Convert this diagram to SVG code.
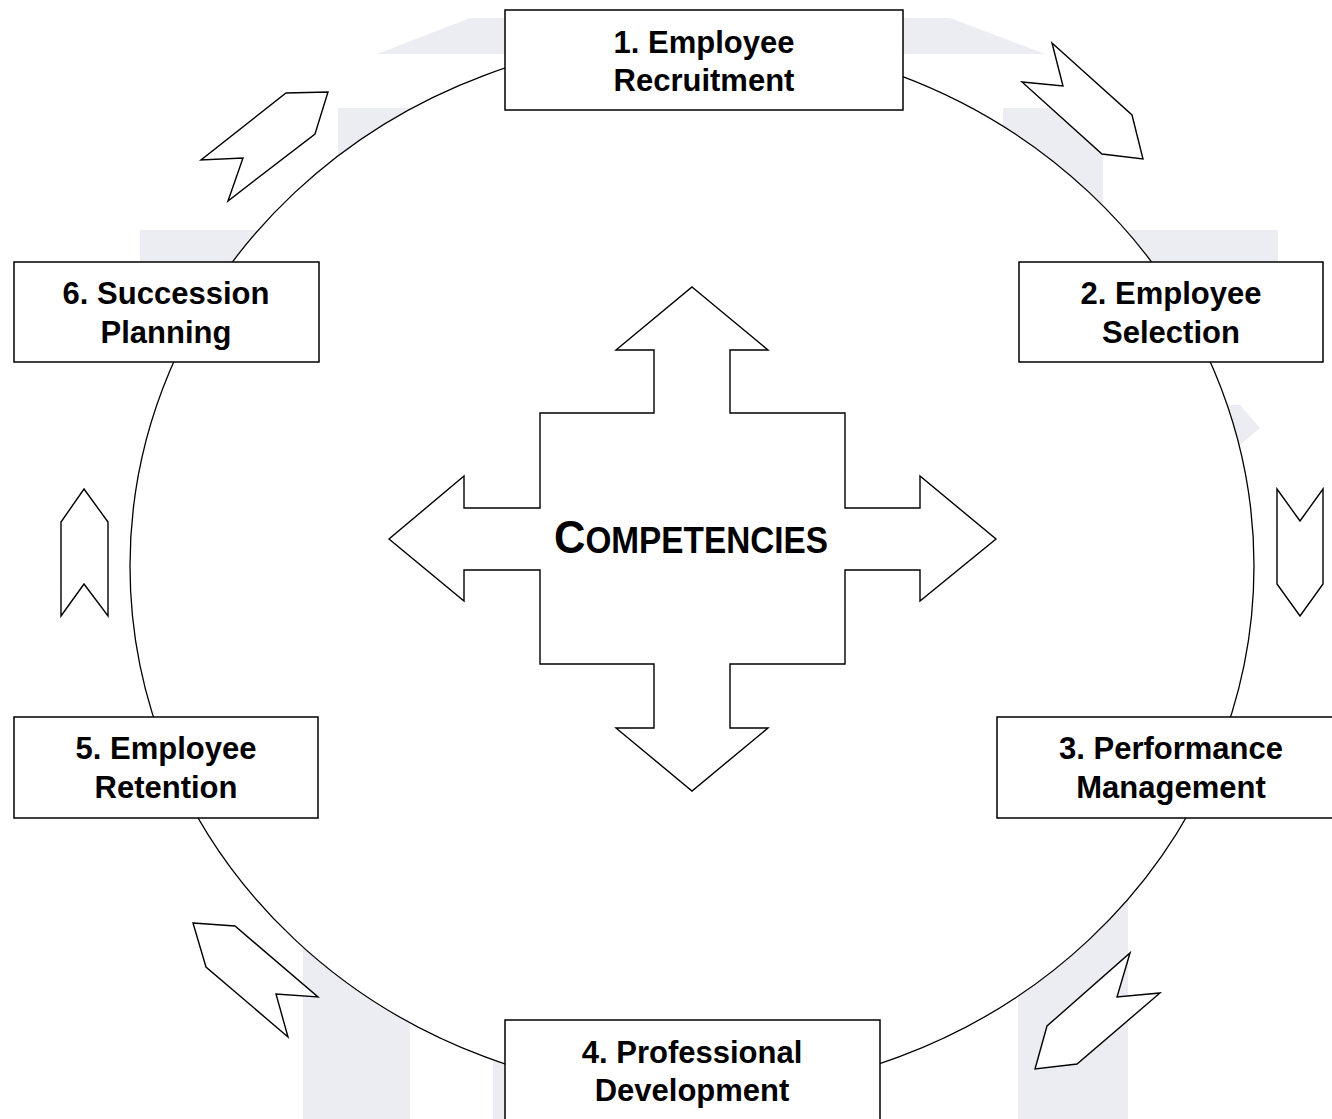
<svg xmlns="http://www.w3.org/2000/svg" width="1332" height="1119" viewBox="0 0 1332 1119">
<style>
.wm{fill:#ececf3;stroke:none}
.box{fill:#ffffff;stroke:#000000;stroke-width:1.5}
.shape{fill:#ffffff;stroke:#000000;stroke-width:1.4;stroke-linejoin:miter}
.ring{fill:#ffffff;stroke:#000000;stroke-width:1.3}
.lbl{font-family:"Liberation Sans",Arial,Helvetica,sans-serif;font-weight:bold;font-size:31px;fill:#000000;text-anchor:middle}
.big{font-family:"Liberation Sans",Arial,Helvetica,sans-serif;font-weight:bold;fill:#000000}
</style>
<rect x="0" y="0" width="1332" height="1119" fill="#ffffff"/>
<g id="watermark">
<polygon class="wm" points="377,54 470,18 950,18 1045,54"/>
<rect class="wm" x="338" y="108" width="72" height="500"/>
<rect class="wm" x="303" y="600" width="107" height="519"/>
<rect class="wm" x="1003" y="108" width="100" height="500"/>
<rect class="wm" x="1018" y="600" width="110" height="519"/>
<rect class="wm" x="140" y="230" width="1138" height="100"/>
<polygon class="wm" points="1190,405 1240,405 1260,428 1240,445 1190,445"/>
<rect class="wm" x="493" y="1000" width="210" height="119"/>
</g>
<g id="connectors">
<ellipse class="ring" cx="692" cy="566" rx="562" ry="528"/>
<polygon class="shape" points="1052,43 1132,115 1143,159 1102,154 1022,82 1063,86"/>
<polygon class="shape" points="1277,489 1300,521 1323,489 1323,584 1300,616 1277,584"/>
<polygon class="shape" points="1130,953 1117,997 1160,993 1077,1064 1035,1069 1047,1026"/>
<polygon class="shape" points="193,923 235,926 318,997 276,994 288,1037 206,967"/>
<polygon class="shape" points="84,489 108,522 108,616 84,584 61,616 61,522"/>
<polygon class="shape" points="286,93 328,92 315,134 228,201 243,158 201,160"/>
</g>
<g id="competencies">
<polygon class="shape" points="692,287 768,350 730,350 730,413 845,413 845,508 920,508 920,476 996,539 920,601 920,570 845,570 845,664 730,664 730,728 768,728 692,791 616,728 654,728 654,664 540,664 540,570 464,570 464,601 389,539 464,476 464,508 540,508 540,413 654,413 654,350 616,350"/>
<text class="big" x="554" y="553" textLength="274" lengthAdjust="spacingAndGlyphs"><tspan font-size="47">C</tspan><tspan font-size="36">OMPETENCIES</tspan></text>
</g>
<g id="node1">
<rect class="box" x="505" y="10" width="398" height="100"/>
<text class="lbl" x="704" y="53">1. Employee</text>
<text class="lbl" x="704" y="91">Recruitment</text>
</g>
<g id="node2">
<rect class="box" x="1019" y="262" width="304" height="100"/>
<text class="lbl" x="1171" y="304">2. Employee</text>
<text class="lbl" x="1171" y="343">Selection</text>
</g>
<g id="node3">
<rect class="box" x="997" y="717" width="348" height="101"/>
<text class="lbl" x="1171" y="759">3. Performance</text>
<text class="lbl" x="1171" y="798">Management</text>
</g>
<g id="node4">
<rect class="box" x="505" y="1020" width="375" height="110"/>
<text class="lbl" x="692" y="1063">4. Professional</text>
<text class="lbl" x="692" y="1101">Development</text>
</g>
<g id="node5">
<rect class="box" x="14" y="717" width="304" height="101"/>
<text class="lbl" x="166" y="759">5. Employee</text>
<text class="lbl" x="166" y="798">Retention</text>
</g>
<g id="node6">
<rect class="box" x="14" y="262" width="305" height="100"/>
<text class="lbl" x="166" y="304">6. Succession</text>
<text class="lbl" x="166" y="343">Planning</text>
</g>
</svg>
